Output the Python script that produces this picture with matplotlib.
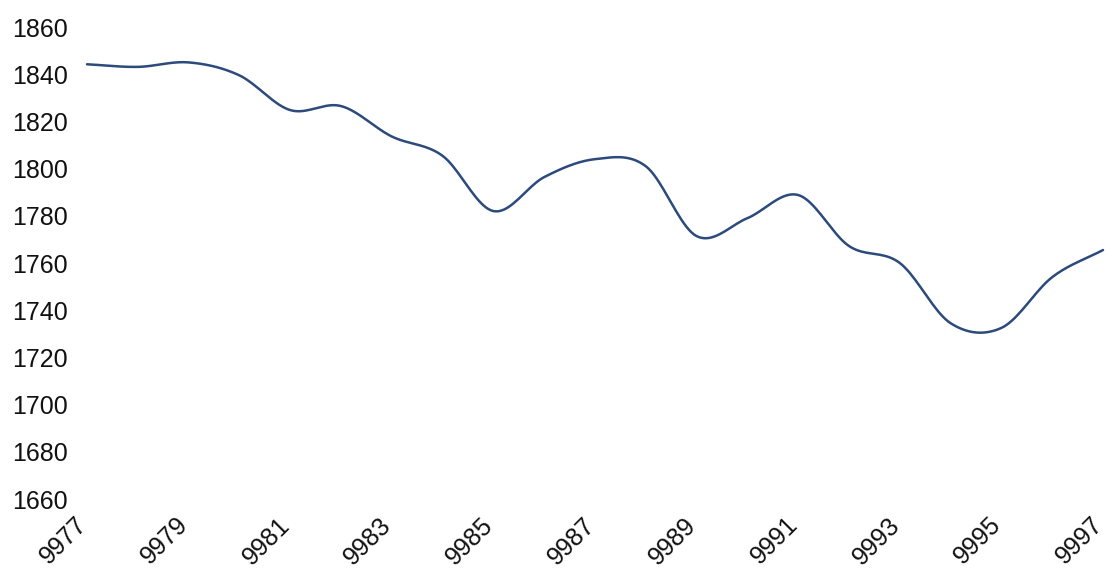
import numpy as np
import matplotlib.pyplot as plt
import matplotlib.transforms as mtrans

plt.rcParams['font.family'] = ['Liberation Sans', 'DejaVu Sans']

# values, one per x step
years = list(range(9977, 9998))
values = [1844.2, 1843.1, 1845.0, 1839.5, 1824.8, 1826.5, 1813.6, 1805.4,
          1782.0, 1796.4, 1804.0, 1801.0, 1771.4, 1779.0, 1788.8, 1767.2,
          1760.0, 1734.5, 1732.5, 1754.0, 1765.5]
tick_years = list(range(9977, 9998, 2))
y_ticks = list(range(1660, 1861, 20))


def catmull_rom(x, y, steps=20):
    """smooth the polyline the way spreadsheet 'smoothed lines' do"""
    x = np.asarray(x, float)
    y = np.asarray(y, float)
    px = np.concatenate([[2*x[0]-x[1]], x, [2*x[-1]-x[-2]]])
    py = np.concatenate([[2*y[0]-y[1]], y, [2*y[-1]-y[-2]]])
    xs, ys = [], []
    t = np.linspace(0, 1, steps, endpoint=False)
    for i in range(1, len(px)-2):
        for arr, out in ((px, xs), (py, ys)):
            p0, p1, p2, p3 = arr[i-1], arr[i], arr[i+1], arr[i+2]
            out.extend(0.5*((2*p1) + (-p0+p2)*t + (2*p0-5*p1+4*p2-p3)*t**2
                            + (-p0+3*p1-3*p2+p3)*t**3))
    xs.append(x[-1])
    ys.append(y[-1])
    return np.array(xs), np.array(ys)


fig = plt.figure(figsize=(11.07, 5.74), dpi=100)
ax = fig.add_axes([87/1107, 75/574, 1016/1107, 472/574])

sx, sy = catmull_rom(years, values)
ax.plot(sx, sy, color='#2c4a7c', lw=1.8, clip_on=False,
        solid_capstyle='round')

ax.set_xlim(9977, 9997)
ax.set_ylim(1660, 1860)
ax.set_yticks(y_ticks)
ax.set_xticks(tick_years)
ax.set_xticklabels([str(v) for v in tick_years], rotation=45, ha='right',
                   va='center', rotation_mode='anchor')
ax.tick_params(length=0, labelsize=18, colors='#111111')
ax.tick_params(axis='y', pad=14)
ax.tick_params(axis='x', pad=16)
shift = mtrans.ScaledTranslation(-4/100, 0, fig.dpi_scale_trans)
for lab in ax.get_xticklabels():
    lab.set_transform(lab.get_transform() + shift)
for s in ax.spines.values():
    s.set_visible(False)

fig.savefig('out.png', dpi=100)
